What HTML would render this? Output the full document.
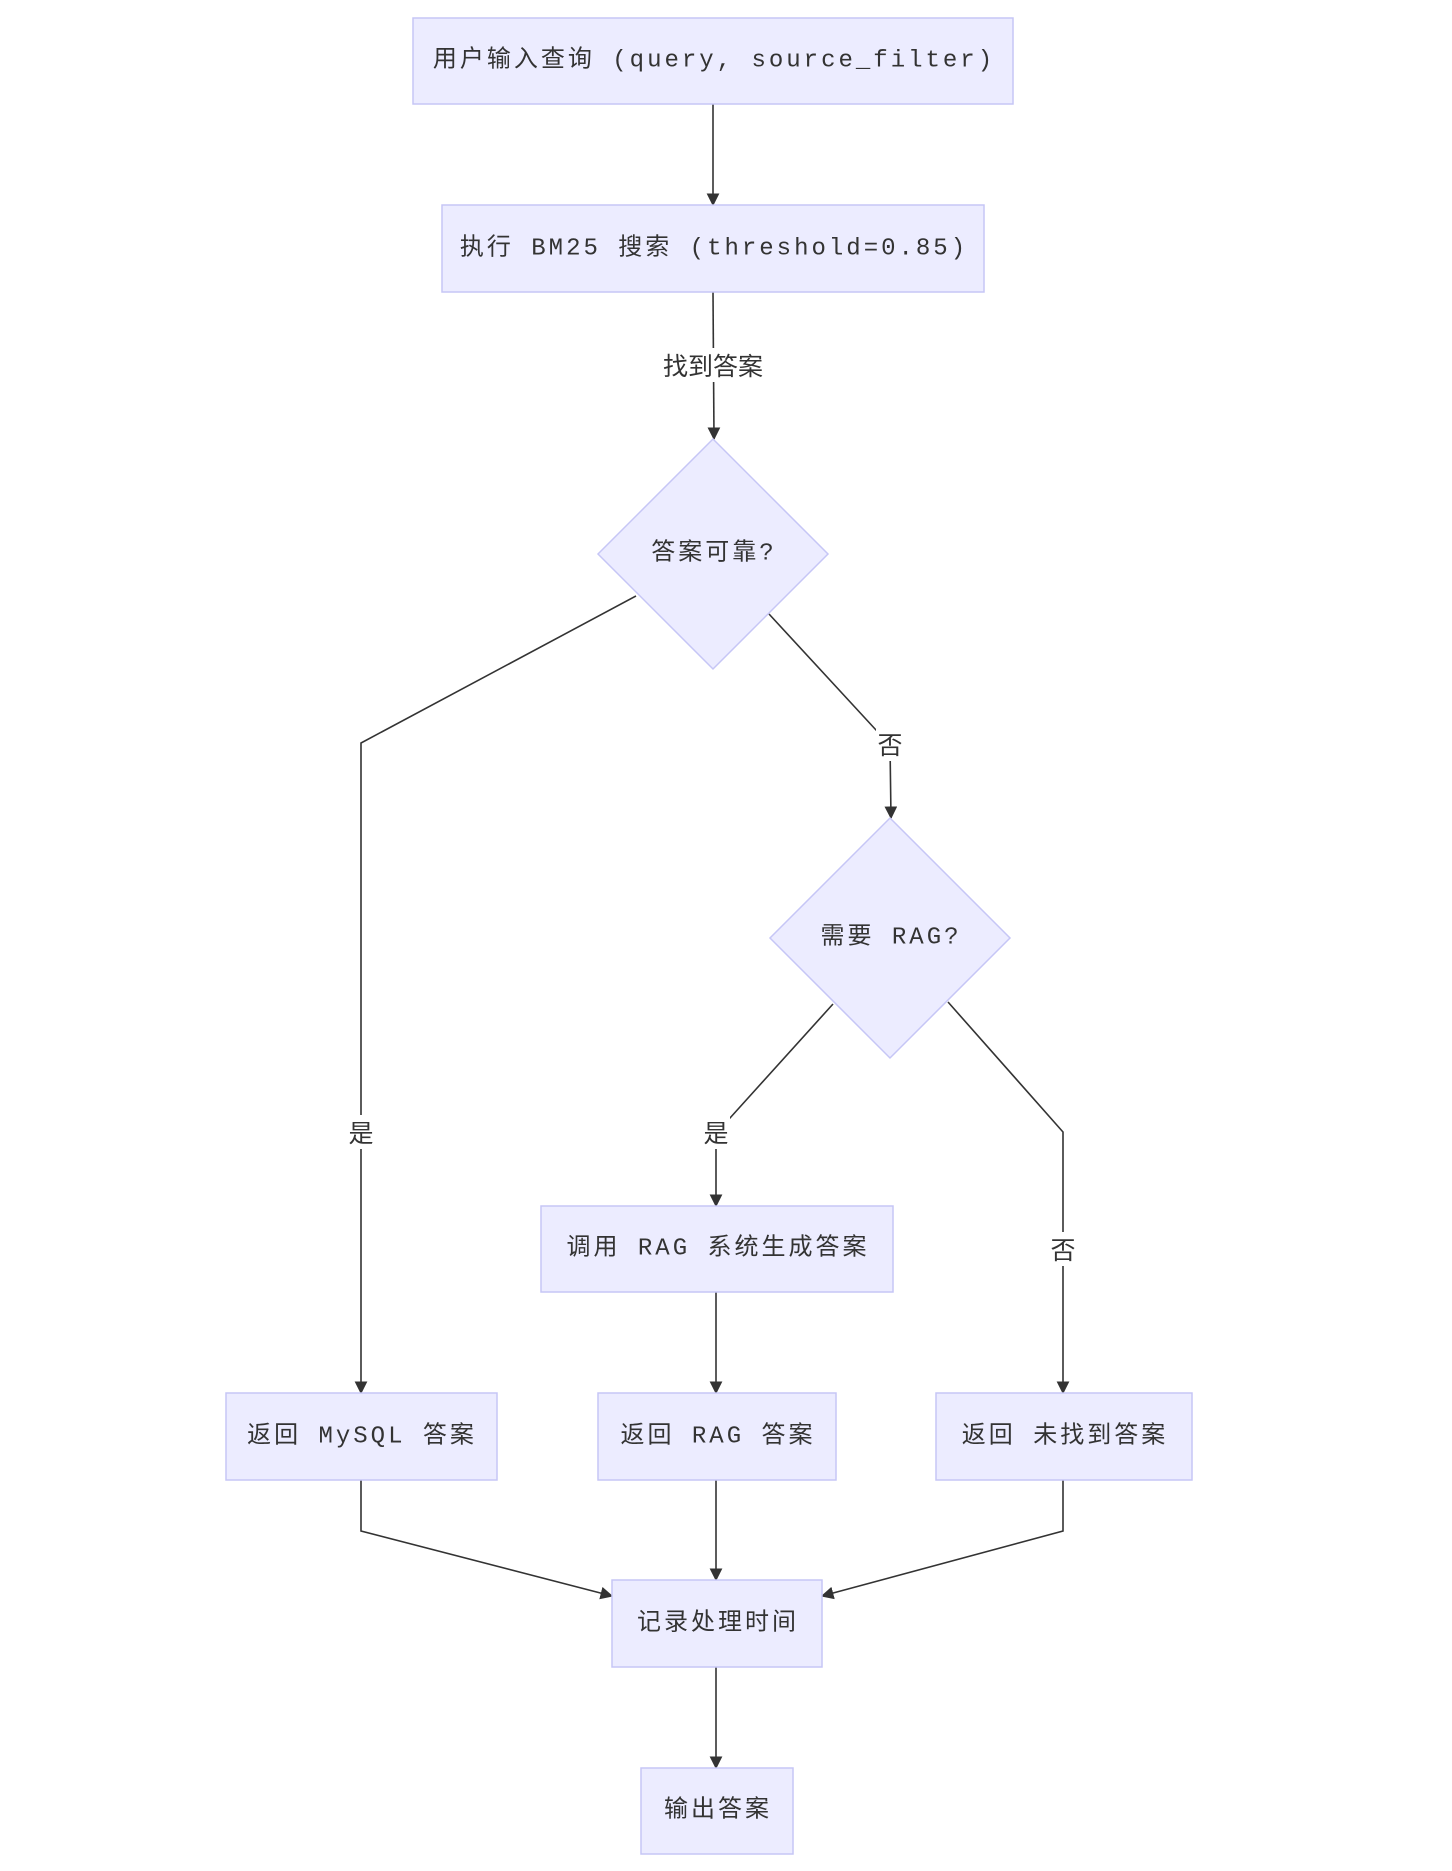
<!DOCTYPE html>
<html><head><meta charset="utf-8"><style>
html,body{margin:0;padding:0;background:#fff}
svg text{font-family:"Liberation Mono","Noto Sans CJK SC",monospace;font-size:24px;letter-spacing:3px;fill:#333;text-anchor:middle;dominant-baseline:central}
svg text.l{font-family:"Noto Sans CJK SC",sans-serif;letter-spacing:0;font-size:25px}
.n{fill:#ECECFF;stroke:#c6c6f6;stroke-width:1.5}
.e{fill:none;stroke:#333;stroke-width:1.6}
.lb{fill:#fff;stroke:none}
</style></head><body>
<svg width="1452" height="1866" viewBox="0 0 1452 1866" xmlns="http://www.w3.org/2000/svg">
<defs><marker id="a" viewBox="0 0 10 10" refX="9" refY="5" markerWidth="8" markerHeight="8" orient="auto"><path d="M0,0L10,5L0,10z" fill="#333"/></marker></defs>
<path class="e" d="M713,104V205" marker-end="url(#a)"/>
<path class="e" d="M713,292L714,439" marker-end="url(#a)"/>
<path class="e" d="M636,596L361,743V1393" marker-end="url(#a)"/>
<path class="e" d="M769,614L876,730L890,744L891,818" marker-end="url(#a)"/>
<path class="e" d="M833,1004L730,1118L716,1132V1206" marker-end="url(#a)"/>
<path class="e" d="M948,1002L1063,1132V1393" marker-end="url(#a)"/>
<path class="e" d="M716,1292V1393" marker-end="url(#a)"/>
<path class="e" d="M361,1480V1531L612,1596" marker-end="url(#a)"/>
<path class="e" d="M716,1480V1580" marker-end="url(#a)"/>
<path class="e" d="M1063,1480V1531L822,1596" marker-end="url(#a)"/>
<path class="e" d="M716,1667V1768" marker-end="url(#a)"/>
<rect class="lb" x="655" y="348" width="116" height="34"/><text class="l" x="713" y="365">找到答案</text>
<rect class="lb" x="347" y="1115" width="28" height="34"/><text class="l" x="361" y="1132">是</text>
<rect class="lb" x="876" y="727" width="28" height="34"/><text class="l" x="890" y="744">否</text>
<rect class="lb" x="702" y="1115" width="28" height="34"/><text class="l" x="716" y="1132">是</text>
<rect class="lb" x="1049" y="1232" width="28" height="34"/><text class="l" x="1063" y="1249">否</text>
<rect class="n" x="413" y="18" width="600" height="86"/><text x="714" y="61">用户输入查询 (query, source_filter)</text>
<rect class="n" x="442" y="205" width="542" height="87"/><text x="714" y="249">执行 BM25 搜索 (threshold=0.85)</text>
<polygon class="n" points="713,439 828,554 713,669 598,554"/><text x="714" y="554">答案可靠?</text>
<polygon class="n" points="890,818 1010,938 890,1058 770,938"/><text x="891" y="938">需要 RAG?</text>
<rect class="n" x="541" y="1206" width="352" height="86"/><text x="718" y="1249">调用 RAG 系统生成答案</text>
<rect class="n" x="226" y="1393" width="271" height="87"/><text x="362" y="1437">返回 MySQL 答案</text>
<rect class="n" x="598" y="1393" width="238" height="87"/><text x="718" y="1437">返回 RAG 答案</text>
<rect class="n" x="936" y="1393" width="256" height="87"/><text x="1065" y="1437">返回 未找到答案</text>
<rect class="n" x="612" y="1580" width="210" height="87"/><text x="718" y="1624">记录处理时间</text>
<rect class="n" x="641" y="1768" width="152" height="86"/><text x="718" y="1811">输出答案</text>
</svg>
</body></html>
